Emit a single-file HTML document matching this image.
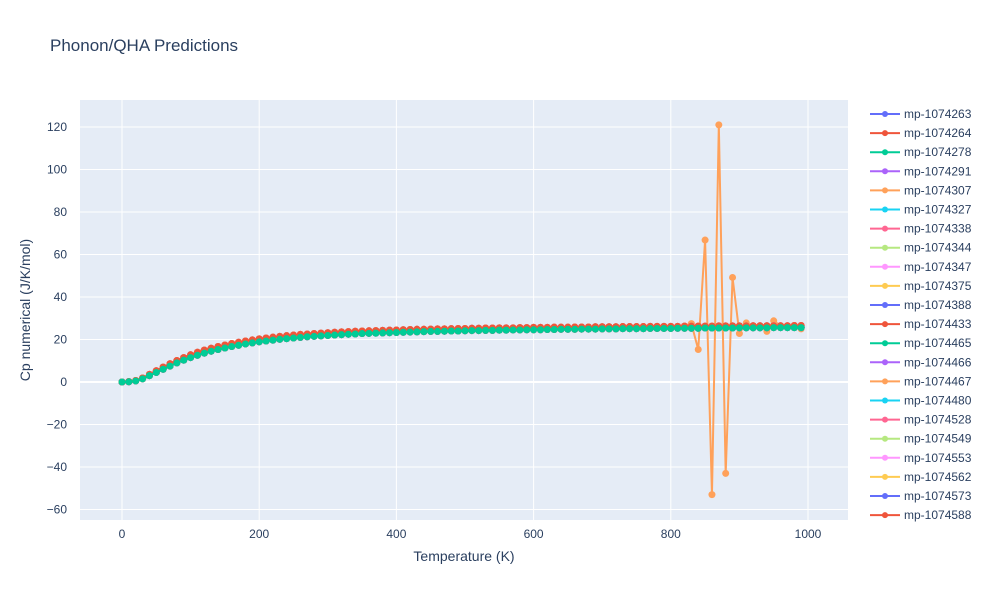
<!DOCTYPE html>
<html><head><meta charset="utf-8"><style>
body{margin:0;background:#fff;font-family:"Liberation Sans",sans-serif}
svg text{font-family:"Liberation Sans",sans-serif;fill:#2a3f5f}
</style></head><body>
<svg id="c" width="1000" height="600">
<rect width="1000" height="600" fill="#fff"/>
<text x="50" y="51" font-size="17">Phonon/QHA Predictions</text>
<rect x="80" y="100" width="768" height="420" fill="#e5ecf6"/>
<g id="grid"></g><g id="series"></g><g id="legend"></g>
<text x="464" y="561" font-size="14" text-anchor="middle">Temperature (K)</text>
<text transform="translate(30,310) rotate(-90)" font-size="14" text-anchor="middle">Cp numerical (J/K/mol)</text>
</svg>
<script>
const names=["mp-1074263","mp-1074264","mp-1074278","mp-1074291","mp-1074307","mp-1074327","mp-1074338","mp-1074344","mp-1074347","mp-1074375","mp-1074388","mp-1074433","mp-1074465","mp-1074466","mp-1074467","mp-1074480","mp-1074528","mp-1074549","mp-1074553","mp-1074562","mp-1074573","mp-1074588"];
const colors=["#636efa","#EF553B","#00cc96","#ab63fa","#FFA15A","#19d3f3","#FF6692","#B6E880","#FF97FF","#FECB52"];
const xTicks=[0,200,400,600,800,1000];
const yTicks=[-60,-40,-20,0,20,40,60,80,100,120];
const lowCurve=[0,0.1,0.5,1.5,3,4.5,6,7.5,9,10.3,11.5,12.6,13.6,14.5,15.3,16,16.7,17.3,17.9,18.4,18.9,19.3,19.7,20.1,20.4,20.7,21,21.3,21.5,21.7,21.9,22.1,22.3,22.5,22.6,22.8,22.9,23.0,23.1,23.2,23.3,23.4,23.5,23.6,23.7,23.8,23.8,23.9,24.0,24.0,24.1,24.2,24.2,24.3,24.3,24.4,24.4,24.5,24.5,24.6,24.6,24.6,24.7,24.7,24.8,24.8,24.8,24.9,24.9,24.9,25.0,25.0,25.0,25.1,25.1,25.1,25.1,25.2,25.2,25.2,25.2,25.3,25.3,25.3,25.3,25.4,25.4,25.4,25.4,25.4,25.5,25.5,25.5,25.5,25.5,25.6,25.6,25.6,25.6,25.6];
const highCurve=[0,0.2,0.7,1.9,3.6,5.3,7,8.6,10.1,11.5,12.8,14,15,15.9,16.7,17.4,18.1,18.7,19.3,19.8,20.3,20.7,21.1,21.5,21.8,22.1,22.4,22.6,22.8,23.0,23.2,23.4,23.6,23.7,23.9,24.0,24.1,24.2,24.3,24.4,24.5,24.6,24.7,24.8,24.8,24.9,25.0,25.0,25.1,25.2,25.2,25.3,25.3,25.4,25.4,25.5,25.5,25.5,25.6,25.6,25.7,25.7,25.7,25.8,25.8,25.8,25.9,25.9,25.9,26.0,26.0,26.0,26.0,26.1,26.1,26.1,26.1,26.2,26.2,26.2,26.2,26.2,26.3,26.3,26.3,26.3,26.3,26.4,26.4,26.4,26.4,26.4,26.5,26.5,26.5,26.5,26.5,26.5,26.6,26.6];
const outlierCurve=[0,0.2,0.7,1.9,3.6,5.3,7,8.6,10.1,11.5,12.8,14,15,15.9,16.7,17.4,18.1,18.7,19.3,19.8,20.3,20.7,21.1,21.5,21.8,22.1,22.4,22.6,22.8,23.0,23.2,23.4,23.6,23.7,23.9,24.0,24.1,24.2,24.3,24.4,24.5,24.6,24.7,24.8,24.8,24.9,25.0,25.0,25.1,25.2,25.2,25.3,25.3,25.4,25.4,25.5,25.5,25.5,25.6,25.6,25.7,25.7,25.7,25.8,25.8,25.8,25.9,25.9,25.9,26.0,26.0,26.0,26.0,26.1,26.1,26.1,26.1,26.2,26.2,26.2,26.2,26.2,26.3,27.5,15.3,66.8,-53,121,-43,49.2,22.8,27.8,26.5,26.4,23.8,28.8,26.5,26.5,26.6,25];
const seriesData=names.map((n,i)=>i===4?outlierCurve:(i%3===1?highCurve:lowCurve));
const NS="http://www.w3.org/2000/svg";
const xS=t=>122+t*0.686;
const yS=v=>382-v*2.125;
function mk(tag,attrs,parent){const e=document.createElementNS(NS,tag);for(const k in attrs)e.setAttribute(k,attrs[k]);parent.appendChild(e);return e;}
const grid=document.getElementById('grid');
xTicks.forEach(t=>{
  const l=mk('line',{x1:xS(t),x2:xS(t),y1:100,y2:520,stroke:'#fff','stroke-width':1},grid);
  
  
  const tx=mk('text',{x:xS(t),y:538,'font-size':12,'text-anchor':'middle'},grid);tx.textContent=t;
  
  
});
yTicks.forEach(t=>{
  const l=mk('line',{x1:80,x2:848,y1:yS(t),y2:yS(t),stroke:'#fff','stroke-width':t===0?2:1},grid);
  
  
  const tx=mk('text',{x:67,y:yS(t)+4,'font-size':12,'text-anchor':'end'},grid);tx.textContent=t<0?'\u2212'+(-t):t;
  
  
});
const sg=document.getElementById('series');
const order=[4,14].concat(names.map((_,i)=>i).filter(i=>![4,14,2,1,21].includes(i))).concat([1,21,2]);
order.forEach(i=>{
  const d=seriesData[i],c=colors[i%10];
  const g=mk('g',{},sg);
  
  
  mk('polyline',{points:d.map((v,k)=>xS(k*10)+','+yS(v)).join(' '),fill:'none',stroke:c,'stroke-width':2},g);
  d.forEach((v,k)=>{const p=mk('circle',{cx:xS(k*10),cy:yS(v),r:3.5,fill:c},g);
    
    });
});
const lg=document.getElementById('legend');
names.forEach((n,i)=>{
  const y=114+i*19.1,c=colors[i%10];
  const g=mk('g',{},lg);
  
  
  mk('line',{x1:870,x2:900,y1:y,y2:y,stroke:c,'stroke-width':2},g);
  mk('circle',{cx:885,cy:y,r:3,fill:c},g);
  const t=mk('text',{x:904,y:y+4,'font-size':12},g);t.textContent=n;
});
</script>
</body></html>
